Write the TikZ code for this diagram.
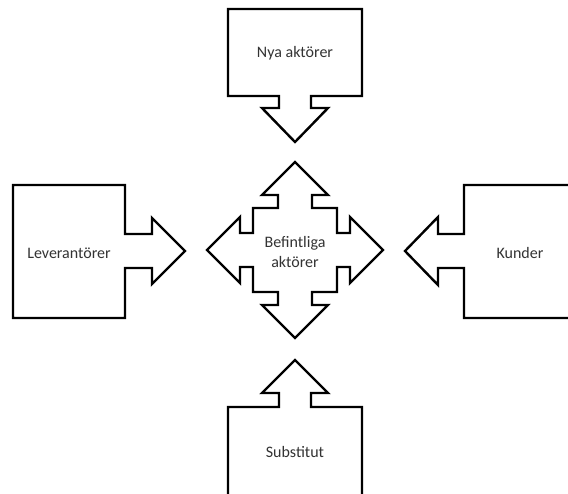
\documentclass[tikz,border=0pt]{standalone}
\usepackage{fontspec}
\setmainfont{Carlito}
\usepackage{tikz}

\begin{document}
\begin{tikzpicture}[x=0.75pt,y=-0.75pt,
		kraft/.style={draw=black, line width=1.8pt, line join=miter, fill=white},
		etikett/.style={text=black!80, font=\fontsize{12}{14.5}\selectfont, align=center}]
	\useasboundingbox (0,0) rectangle (568,493);

	% Nya aktörer (ovanifrån)
	\draw[kraft] (228,9) -- (362,9) -- (362,96) -- (311,96) -- (311,108) -- (328,108) -- (295,142)
		-- (262,108) -- (279,108) -- (279,96) -- (228,96) -- cycle;
	\node[etikett] (nya) at (295,53) {Nya aktörer};

	% Leverantörer (vänster)
	\draw[kraft] (13,185) -- (125,185) -- (125,234) -- (152,234) -- (152,218) -- (185,251)
		-- (152,284) -- (152,268) -- (125,268) -- (125,318) -- (13,318) -- cycle;
	\node[etikett] (lev) at (69,253) {Leverantörer};

	% Kunder (höger, går utanför bilden)
	\draw[kraft] (580,185) -- (464,185) -- (464,234) -- (438,234) -- (438,217) -- (405,251)
		-- (438,285) -- (438,268) -- (464,268) -- (464,318) -- (580,318) -- cycle;
	\node[etikett] (kund) at (520,253) {Kunder};

	% Substitut (nedifrån, går utanför bilden)
	\draw[kraft] (228,500) -- (228,407) -- (279,407) -- (279,393) -- (262,393) -- (295,360)
		-- (328,393) -- (311,393) -- (311,407) -- (362,407) -- (362,500) -- cycle;
	\node[etikett] (sub) at (295,452) {Substitut};

	% Befintliga aktörer: pil åt fyra håll
	\begin{scope}[shift={(295,250)}]
		\draw[kraft] (-42,-42) -- (-17,-42) -- (-17,-55) -- (-33,-55) -- (0,-88) -- (33,-55) -- (17,-55) -- (17,-42)
			-- (42,-42) -- (42,-17) -- (55,-17) -- (55,-33) -- (88,0) -- (55,33) -- (55,17) -- (42,17)
			-- (42,42) -- (17,42) -- (17,55) -- (33,55) -- (0,88) -- (-33,55) -- (-17,55) -- (-17,42)
			-- (-42,42) -- (-42,17) -- (-55,17) -- (-55,33) -- (-88,0) -- (-55,-33) -- (-55,-17) -- (-42,-17) -- cycle;
		\node[etikett] (bef) at (0,2) {Befintliga\\aktörer};
	\end{scope}
\end{tikzpicture}
\end{document}
